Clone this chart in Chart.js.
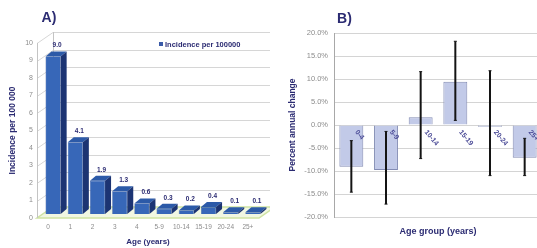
<!DOCTYPE html>
<html>
<head>
<title>Incidence and annual change by age</title>
<style>
  html, body { margin: 0; padding: 0; background: #fff; overflow: hidden; }
  #wrap { position: relative; width: 537px; height: 248px; overflow: hidden; }
  #chartA { position: absolute; left: 0; top: 0; }
  #chartB { position: absolute; left: 270px; top: 0; }
</style>
<script src="https://cdn.jsdelivr.net/npm/chart.js"></script>
</head>
<body>
<div id="wrap">
  <canvas id="chartA" width="270" height="248"></canvas>
  <canvas id="chartB" width="290" height="248"></canvas>
</div>
<script>
// Panel A data
const ageLabels = ['0', '1', '2', '3', '4', '5-9', '10-14', '15-19', '20-24', '25+'];
const incidence = [9.0, 4.1, 1.9, 1.3, 0.6, 0.3, 0.2, 0.4, 0.1, 0.1];
const incidenceTicks = [0, 1, 2, 3, 4, 5, 6, 7, 8, 9, 10];

// Panel B data (percent annual change with confidence limits)
const ageGroups = ['0-4', '5-9', '10-14', '15-19', '20-24', '25+'];
const apc = [-9.1, -9.8, 1.7, 9.4, -0.4, -7.1];
const apcLower = [-14.6, -17.2, -7.3, 1.0, -11.0, -11.0];
const apcUpper = [-3.4, -1.4, 11.6, 18.2, 11.8, -2.9];

Chart.defaults.font.family = '"Liberation Sans", Arial, sans-serif';
const navy = '#2b2b72';
const tickGray = '#8c8c8c';

// 3D look for panel A
const wallDX = 16, wallDY = 11;   // depth of the back wall
const barDX = 5, barDY = 4;       // bars sit in the middle of the depth
const faceDX = 6, faceDY = 5;     // depth of each bar

const threeD = {
  id: 'threeD',
  beforeDatasetsDraw(chart) {
    const ctx = chart.ctx;
    const a = chart.chartArea;
    const y = chart.scales.y;

    // floor
    ctx.save();
    ctx.beginPath();
    ctx.moveTo(a.left, a.bottom);
    ctx.lineTo(a.right, a.bottom);
    ctx.lineTo(a.right + wallDX, a.bottom - wallDY);
    ctx.lineTo(a.left + wallDX, a.bottom - wallDY);
    ctx.closePath();
    ctx.fillStyle = '#f1f7e2';
    ctx.fill();
    ctx.strokeStyle = '#cfe3a2';
    ctx.lineWidth = 1.5;
    ctx.stroke();

    // gridlines on side and back wall
    ctx.strokeStyle = '#d6d6d6';
    ctx.lineWidth = 1;
    incidenceTicks.forEach(v => {
      if (v === 0) return;
      const py = Math.round(y.getPixelForValue(v)) + 0.5;
      ctx.beginPath();
      ctx.moveTo(a.left, py);
      ctx.lineTo(a.left + wallDX, py - wallDY);
      ctx.lineTo(a.right + wallDX, py - wallDY);
      ctx.stroke();
    });
    // wall edges
    ctx.strokeStyle = '#c4c4c4';
    ctx.beginPath();
    ctx.moveTo(a.left + 0.5, a.top);
    ctx.lineTo(a.left + 0.5, a.bottom);
    ctx.moveTo(a.left + wallDX + 0.5, a.top - wallDY);
    ctx.lineTo(a.left + wallDX + 0.5, a.bottom - wallDY);
    ctx.moveTo(a.right + wallDX - 0.5, a.top - wallDY);
    ctx.lineTo(a.right + wallDX - 0.5, a.bottom - wallDY);
    ctx.stroke();
    ctx.restore();

    ctx.save();
    ctx.translate(barDX, -barDY);
  },
  afterDatasetsDraw(chart) {
    const ctx = chart.ctx;
    const meta = chart.getDatasetMeta(0);
    meta.data.forEach((bar, i) => {
      const p = bar.getProps(['x', 'y', 'base', 'width'], true);
      const l = p.x - p.width / 2, r = p.x + p.width / 2;
      // top face
      ctx.beginPath();
      ctx.moveTo(l, p.y);
      ctx.lineTo(r, p.y);
      ctx.lineTo(r + faceDX, p.y - faceDY);
      ctx.lineTo(l + faceDX, p.y - faceDY);
      ctx.closePath();
      ctx.fillStyle = '#2c5aa8';
      ctx.fill();
      // side face
      ctx.beginPath();
      ctx.moveTo(r, p.y);
      ctx.lineTo(r + faceDX, p.y - faceDY);
      ctx.lineTo(r + faceDX, p.base - faceDY);
      ctx.lineTo(r, p.base);
      ctx.closePath();
      ctx.fillStyle = '#1c3473';
      ctx.fill();
      // value label
      ctx.fillStyle = navy;
      ctx.font = 'bold 6.5px "Liberation Sans", Arial, sans-serif';
      ctx.textAlign = 'center';
      ctx.textBaseline = 'middle';
      ctx.fillText(incidence[i].toFixed(1), p.x + 4, p.y - 11);
    });
    ctx.restore();
  },
  afterDraw(chart) {
    const ctx = chart.ctx;
    ctx.save();
    ctx.fillStyle = navy;
    ctx.font = 'bold 14px "Liberation Sans", Arial, sans-serif';
    ctx.textAlign = 'center';
    ctx.textBaseline = 'middle';
    ctx.fillText('A)', 49, 18);
    // legend
    ctx.fillStyle = '#3a5aa8';
    ctx.fillRect(159, 42, 4, 4);
    ctx.fillStyle = navy;
    ctx.font = 'bold 7.5px "Liberation Sans", Arial, sans-serif';
    ctx.textAlign = 'left';
    ctx.fillText(chart.data.datasets[0].label, 165, 44.5);
    ctx.restore();
  }
};

new Chart(document.getElementById('chartA'), {
  type: 'bar',
  data: {
    labels: ageLabels,
    datasets: [{
      label: 'Incidence per 100000',
      data: incidence,
      backgroundColor: '#3767b8',
      borderColor: '#27498f',
      borderWidth: 0.5,
      barPercentage: 0.68,
      categoryPercentage: 1,
      clip: false
    }]
  },
  options: {
    responsive: false,
    animation: false,
    events: [],
    layout: { padding: { left: 0, top: 43, right: 11, bottom: 0 } },
    plugins: { legend: { display: false }, tooltip: { enabled: false } },
    scales: {
      x: {
        grid: { display: false, drawTicks: false },
        border: { display: false },
        ticks: { color: tickGray, font: { size: 6.5 }, padding: 5, maxRotation: 0, autoSkip: false },
        title: { display: true, text: 'Age (years)', color: navy, font: { size: 8, weight: 'bold' }, padding: { top: 1, bottom: 1 } },
        afterFit(s) { s.height = 30; }
      },
      y: {
        min: 0, max: 10,
        grid: { display: false, drawTicks: false },
        border: { display: false },
        ticks: { stepSize: 1, color: tickGray, font: { size: 7 }, padding: 4 },
        title: { display: true, text: 'Incidence per 100 000', color: navy, font: { size: 8.5, weight: 'bold' }, padding: { top: 8, bottom: 8 } },
        afterFit(s) { s.width = 37; }
      }
    }
  },
  plugins: [threeD]
});

// Panel B: error bars and rotated category labels at the zero line
const errorBars = {
  id: 'errorBars',
  afterDatasetsDraw(chart) {
    const ctx = chart.ctx;
    const x = chart.scales.x, y = chart.scales.y;
    ctx.save();
    ctx.strokeStyle = '#141414';
    ctx.lineWidth = 2;
    ageGroups.forEach((g, i) => {
      const px = x.getPixelForValue(i);
      const y1 = y.getPixelForValue(apcUpper[i]);
      const y2 = y.getPixelForValue(apcLower[i]);
      ctx.beginPath();
      ctx.moveTo(px, y1);
      ctx.lineTo(px, y2);
      ctx.stroke();
      ctx.lineWidth = 1;
      ctx.beginPath();
      ctx.moveTo(px - 1.5, y1); ctx.lineTo(px + 1.5, y1);
      ctx.moveTo(px - 1.5, y2); ctx.lineTo(px + 1.5, y2);
      ctx.stroke();
      ctx.lineWidth = 2;
    });
    // category labels
    const y0 = y.getPixelForValue(0);
    ctx.fillStyle = '#4a4a96';
    ctx.font = 'bold 7px "Liberation Sans", Arial, sans-serif';
    ctx.textAlign = 'left';
    ctx.textBaseline = 'middle';
    ageGroups.forEach((g, i) => {
      const px = x.getPixelForValue(i);
      ctx.save();
      ctx.translate(px + 5, y0 + 6);
      ctx.rotate(50 * Math.PI / 180);
      ctx.fillText(g, 0, 0);
      ctx.restore();
    });
    ctx.restore();
  },
  afterDraw(chart) {
    const ctx = chart.ctx;
    ctx.save();
    ctx.fillStyle = navy;
    ctx.font = 'bold 14px "Liberation Sans", Arial, sans-serif';
    ctx.textAlign = 'center';
    ctx.textBaseline = 'middle';
    ctx.fillText('B)', 74.5, 19);
    ctx.restore();
  }
};

new Chart(document.getElementById('chartB'), {
  type: 'bar',
  data: {
    labels: ageGroups,
    datasets: [{
      label: 'Percent annual change',
      data: apc,
      backgroundColor: '#c2cae8',
      borderColor: '#838cb4',
      borderWidth: 1,
      barPercentage: 0.69,
      categoryPercentage: 1
    }]
  },
  options: {
    responsive: false,
    animation: false,
    events: [],
    layout: { padding: { left: 0, top: 33, right: 18, bottom: 0 } },
    plugins: { legend: { display: false }, tooltip: { enabled: false } },
    scales: {
      x: {
        grid: { display: false, drawTicks: false },
        border: { display: false },
        ticks: { display: false },
        title: { display: true, text: 'Age group (years)', color: navy, font: { size: 9, weight: 'bold' }, padding: { top: 11, bottom: 11 } },
        afterFit(s) { s.height = 31; }
      },
      y: {
        min: -20, max: 20,
        grid: { color: '#d4d4d4', drawTicks: false },
        border: { color: '#a8a8a8' },
        ticks: { stepSize: 5, color: tickGray, font: { size: 7.5 }, padding: 6, callback: v => v.toFixed(1) + '%' },
        title: { display: true, text: 'Percent annual change', color: navy, font: { size: 8.5, weight: 'bold' }, padding: { top: 18, bottom: 18 } },
        afterFit(s) { s.width = 64; }
      }
    }
  },
  plugins: [errorBars]
});
</script>
</body>
</html>
